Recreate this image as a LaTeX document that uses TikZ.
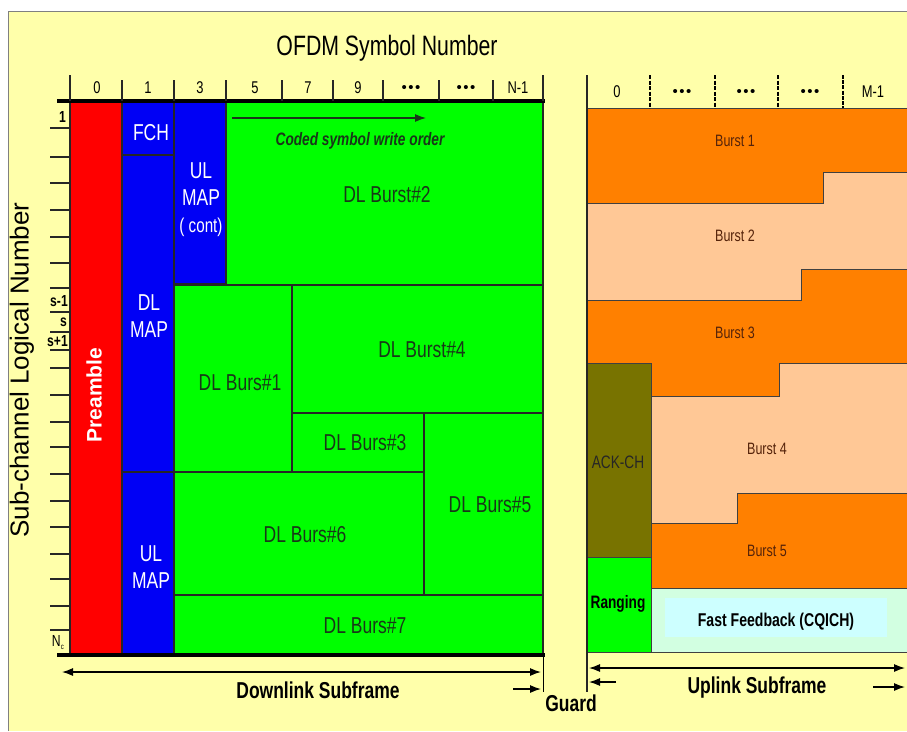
\documentclass[tikz,border=0pt]{standalone}
\usepackage{fontspec}
\setmainfont{Liberation Sans}
\newfontfamily\nar[FakeStretch=0.76]{Liberation Sans}
\usetikzlibrary{arrows.meta}
\definecolor{yel}{RGB}{255,255,170}
\definecolor{grn}{RGB}{0,255,0}
\definecolor{blu}{RGB}{0,0,245}
\definecolor{rd}{RGB}{255,0,0}
\definecolor{olv}{RGB}{120,115,0}
\definecolor{org}{RGB}{255,128,0}
\definecolor{pch}{RGB}{255,200,150}
\definecolor{mnt}{RGB}{210,255,225}
\definecolor{cyn}{RGB}{205,255,255}
\definecolor{dkg}{RGB}{25,55,25}
\definecolor{brn}{RGB}{85,35,10}
\begin{document}
\begin{tikzpicture}[x=1pt,y=-1pt,
  box/.style={draw=black!85, line width=1.6pt},
  ubox/.style={draw=black!75, line width=0.8pt},
  big/.style={font=\nar\fontsize{23}{27}\selectfont, align=center, inner sep=0pt},
  wtxt/.style={big, text=white},
  gtxt/.style={big, text=dkg},
  btxt/.style={font=\nar\fontsize{16.5}{19}\selectfont, text=brn, inner sep=0pt},
  num/.style={font=\nar\fontsize{17}{19}\selectfont, inner sep=0pt},
  dots/.style={font=\fontsize{15}{17}\selectfont, inner sep=0pt},
  ynum/.style={font=\nar\bfseries\fontsize{16}{18}\selectfont, anchor=east, inner sep=0pt},
  bold/.style={font=\nar\bfseries\fontsize{23}{27}\selectfont, inner sep=0pt},
  tk/.style={line width=1.3pt, draw=black!85},
  arr/.style={line width=1.2pt, -{Latex[length=11pt,width=8pt]}},
  darr/.style={line width=1.2pt, {Latex[length=11pt,width=8pt]}-{Latex[length=11pt,width=8pt]}}
]
\useasboundingbox (0,0) rectangle (907,731);
\fill[white] (0,0) rectangle (907,731);
\fill[yel] (8,11) rectangle (907,731);
\draw[gray, line width=1pt] (8,731) -- (8,11) -- (907,11);

% titles
\node[font=\nar\fontsize{28}{30}\selectfont, inner sep=0pt] (title) at (387,48) {OFDM Symbol Number};
\node[font=\fontsize{26}{28}\selectfont, rotate=90, inner sep=0pt] (ylab) at (22,370) {Sub-channel Logical Number};

% ---------- Downlink blocks ----------
\filldraw[box, fill=rd] (70,102) rectangle (122,655);
\filldraw[box, fill=blu] (122,102) rectangle (174,155);
\filldraw[box, fill=blu] (122,155) rectangle (174,472);
\filldraw[box, fill=blu] (122,472) rectangle (174,655);
\filldraw[box, fill=blu] (174,102) rectangle (226,284);
\filldraw[box, fill=grn] (226,102) rectangle (543,285);
\filldraw[box, fill=grn] (174,285) rectangle (292,472);
\filldraw[box, fill=grn] (292,285) rectangle (543,413);
\filldraw[box, fill=grn] (292,413) rectangle (424,472);
\filldraw[box, fill=grn] (424,413) rectangle (543,595);
\filldraw[box, fill=grn] (174,472) rectangle (424,595);
\filldraw[box, fill=grn] (174,595) rectangle (543,655);

\node[font=\bfseries\fontsize{21}{24}\selectfont, text=white, rotate=90, inner sep=0pt] (pre) at (94,395) {Preamble};
\node[wtxt] (fch) at (151,133) {FCH};
\node[wtxt] (dlmap) at (149,316) {DL\\MAP};
\node[wtxt] (ulmap) at (151,567) {UL\\MAP};
\node[wtxt] (ulcont) at (201,200) {UL\\MAP\\{\fontsize{20}{22}\selectfont( cont)}};
\node[gtxt] (b2) at (387,195) {DL Burst\#2};
\node[gtxt] (b1) at (240,383) {DL Burs\#1};
\node[gtxt] (b4) at (422,350) {DL Burst\#4};
\node[gtxt] (b3) at (365,443) {DL Burs\#3};
\node[gtxt] (b5) at (490,505) {DL Burs\#5};
\node[gtxt] (b6) at (305,535) {DL Burs\#6};
\node[gtxt] (b7) at (365,626) {DL Burs\#7};

\coordinate (wa) at (232,118);
\coordinate (wb) at (426,118);
\draw[arr, draw=dkg] (wa) -- (wb);
\node[font=\nar\bfseries\itshape\fontsize{18}{20}\selectfont, text=dkg, inner sep=0pt] (wo) at (360,141) {Coded symbol write order};

% axes (downlink)
\draw[line width=4pt] (57,101) -- (545,101);
\draw[line width=4pt] (57,655) -- (545,655);
\draw[tk] (70,75) -- (70,101);
\draw[tk] (543,75) -- (543,101);
\foreach \x in {122,174,226,282,333,383,439,493}
  \draw[tk] (\x,80) -- (\x,101);
\node[num] (c0) at (97,88) {0};
\node[num] (c1) at (148,88) {1};
\node[num] (c3) at (200,88) {3};
\node[num] (c5) at (255,88) {5};
\node[num] (c7) at (308,88) {7};
\node[num] (c9) at (358,88) {9};
\node[dots] (cd1) at (411,89) {•\hspace{1.5pt}•\hspace{1.5pt}•};
\node[dots] (cd2) at (466,89) {•\hspace{1.5pt}•\hspace{1.5pt}•};
\node[num] (cn) at (518,88) {N-1};

\foreach \y in {128,157,183,210,237,263,288,312,332,350,368,395,422,447,474,501,527,554,579,606,630}
  \draw[tk] (50,\y) -- (70,\y);
\node[ynum] (r1) at (66,117) {1};
\node[ynum] (rsm) at (68,301) {s-1};
\node[ynum] (rs) at (67,322) {s};
\node[ynum] (rsp) at (68,341) {s+1};
\node[ynum, font=\nar\fontsize{16}{18}\selectfont] (rn) at (64,643) {N\raisebox{-3pt}{\fontsize{8}{8}\selectfont c}};

% ---------- Uplink blocks ----------
\filldraw[ubox, fill=org] (587,108) -- (909,108) -- (909,172) -- (823,172) -- (823,203) -- (587,203) -- cycle;
\filldraw[ubox, fill=pch] (587,203) -- (823,203) -- (823,172) -- (909,172) -- (909,269) -- (801,269) -- (801,300) -- (587,300) -- cycle;
\filldraw[ubox, fill=org] (587,300) -- (801,300) -- (801,269) -- (909,269) -- (909,363) -- (779,363) -- (779,396) -- (651,396) -- (651,363) -- (587,363) -- cycle;
\filldraw[ubox, fill=pch] (651,396) -- (779,396) -- (779,363) -- (909,363) -- (909,493) -- (737,493) -- (737,523) -- (651,523) -- cycle;
\filldraw[ubox, fill=org] (651,523) -- (737,523) -- (737,493) -- (909,493) -- (909,588) -- (651,588) -- cycle;
\filldraw[ubox, fill=olv] (587,363) rectangle (651,557);
\filldraw[ubox, fill=grn] (587,557) rectangle (651,652);
\filldraw[ubox, fill=mnt] (651,588) rectangle (909,652);
\fill[cyn] (665,598) rectangle (887,637);

\node[btxt] (u1) at (735,141) {Burst 1};
\node[btxt] (u2) at (735,236) {Burst 2};
\node[btxt] (u3) at (735,333) {Burst 3};
\node[btxt] (u4) at (767,449) {Burst 4};
\node[btxt] (u5) at (767,551) {Burst 5};
\node[font=\nar\fontsize{18}{20}\selectfont, text=black!85, inner sep=0pt] (ack) at (618,462) {ACK-CH};
\node[font=\nar\bfseries\fontsize{18}{20}\selectfont, inner sep=0pt] (rng) at (618,604) {Ranging};
\node[font=\nar\bfseries\fontsize{18.5}{20}\selectfont, inner sep=0pt] (ff) at (776,622) {Fast Feedback (CQICH)};

% uplink header
\draw[tk] (587,75) -- (587,692);
\foreach \x in {650,715,778}
  \draw[line width=1.1pt, dash pattern=on 4pt off 1.5pt] (\x,75) -- (\x,108);
\draw[line width=1.8pt, dash pattern=on 4pt off 1.2pt] (843,75) -- (843,108);
\node[num] (m0) at (617,92) {0};
\node[dots] (md1) at (682,93) {•\hspace{1.5pt}•\hspace{1.5pt}•};
\node[dots] (md2) at (746,93) {•\hspace{1.5pt}•\hspace{1.5pt}•};
\node[dots] (md3) at (810,93) {•\hspace{1.5pt}•\hspace{1.5pt}•};
\node[num] (mm) at (873,92) {M-1};

% ---------- bottom arrows ----------
\draw[line width=1pt] (543,655) -- (543,692);
\coordinate (dl1) at (62,672);
\coordinate (dl2) at (541,672);
\draw[darr] (dl1) -- (dl2);
\coordinate (g1) at (513,689);
\coordinate (g2) at (541,689);
\draw[arr] (g1) -- (g2);
\coordinate (g3) at (616,682);
\coordinate (g4) at (589,682);
\draw[arr] (g3) -- (g4);
\coordinate (ul1) at (589,668);
\coordinate (ul2) at (905,668);
\draw[darr] (ul1) -- (ul2);
\coordinate (u6) at (873,687);
\coordinate (u7) at (905,687);
\draw[arr] (u6) -- (u7);
\node[bold] (dls) at (318,690) {Downlink Subframe};
\node[bold] (gd) at (571,703) {Guard};
\node[bold] (uls) at (757,688) {Uplink Subframe};
\end{tikzpicture}
\end{document}
